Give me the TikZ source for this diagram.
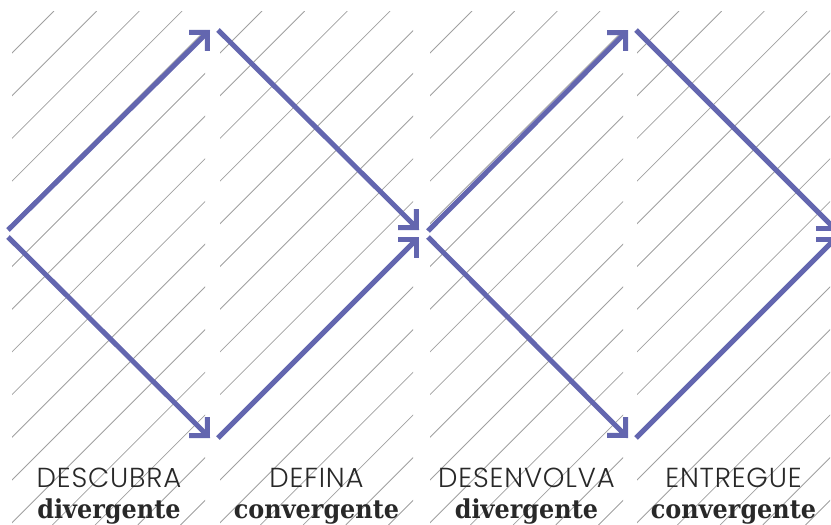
\documentclass[tikz,border=0pt]{standalone}
\usepackage{fontspec}
\usetikzlibrary{arrows.meta}
\newfontfamily\thinfont{Poppins}[UprightFont={* Light}, LetterSpace=3]
\newfontfamily\slabfont{DejaVu Serif}[FakeStretch=0.92]
\definecolor{arrowblue}{RGB}{99,102,175}
\definecolor{hatchgray}{RGB}{160,160,160}
\definecolor{textgray}{RGB}{40,40,40}
\tikzset{
  phasearrow/.style={draw=arrowblue, line width=5pt,
    -{Straight Barb[length=13pt, width=26pt, line cap=butt, line join=miter]}},
  hatchline/.style={draw=hatchgray, line width=0.8pt},
  phasename/.style={anchor=base, inner sep=0pt, text=textgray, font=\thinfont\fontsize{27.5}{30}\selectfont},
  phasekind/.style={anchor=base, inner sep=0pt, text=textgray, font=\slabfont\bfseries\fontsize{26}{30}\selectfont}
}
\begin{document}
\begin{tikzpicture}[x=1pt, y=-1pt]
\useasboundingbox (0,0) rectangle (831,525);
% hatched columns
\foreach \cl/\cr in {12/205, 220/413, 430/623, 637/830}{
  \begin{scope}
    \clip (\cl,11) rectangle (\cr,525);
    \foreach \k in {0,...,17}{
      \pgfmathsetmacro{\c}{\cl+11+42+42.7*\k}
      \draw[hatchline] (\c-11,11) -- (\c-525,525);
    }
  \end{scope}
}
% anchor points
\coordinate (La) at (8,230);
\coordinate (Lb) at (8,237);
\coordinate (T1) at (210,30);
\coordinate (B1) at (210,438);
\coordinate (T1s) at (218,30);
\coordinate (B1s) at (218,438);
\coordinate (Ma) at (419,230);
\coordinate (Mb) at (419,237);
\coordinate (Mc) at (428,231);
\coordinate (Md) at (428,237);
\coordinate (T2) at (628,30);
\coordinate (B2) at (628,438);
\coordinate (T2s) at (636,30);
\coordinate (B2s) at (636,438);
\coordinate (Ra) at (837,231);
\coordinate (Rb) at (837,237);
% arrows
\draw[phasearrow] (La) -- (T1);
\draw[phasearrow] (Lb) -- (B1);
\draw[phasearrow] (T1s) -- (Ma);
\draw[phasearrow] (B1s) -- (Mb);
\draw[phasearrow] (Mc) -- (T2);
\draw[phasearrow] (Md) -- (B2);
\draw[phasearrow] (T2s) -- (Ra);
\draw[phasearrow] (B2s) -- (Rb);
% labels
\node[phasename] (n1) at (109,487) {DESCUBRA};
\node[phasename] (n2) at (316.5,487) {DEFINA};
\node[phasename] (n3) at (526.5,487) {DESENVOLVA};
\node[phasename] (n4) at (733.5,487) {ENTREGUE};
\node[phasekind] (k1) at (109,518) {divergente};
\node[phasekind] (k2) at (316.5,518) {convergente};
\node[phasekind] (k3) at (526.5,518) {divergente};
\node[phasekind] (k4) at (733.5,518) {convergente};
\end{tikzpicture}
\end{document}
